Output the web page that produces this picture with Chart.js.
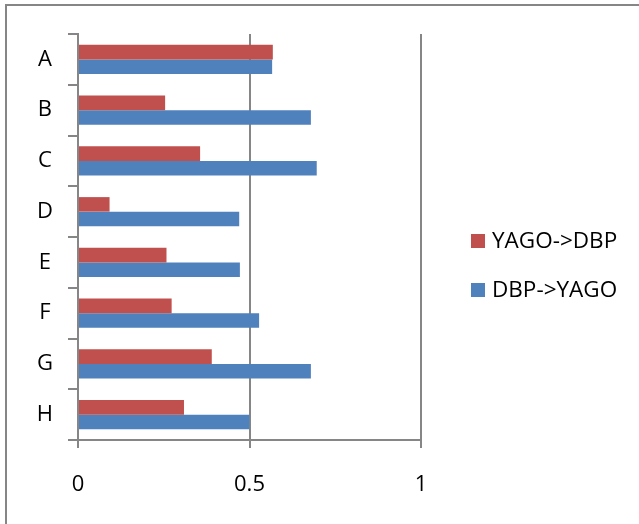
<!DOCTYPE html>
<html>
<head>
<meta charset="utf-8">
<script src="https://cdn.jsdelivr.net/npm/chart.js@4/dist/chart.umd.min.js"></script>
<style>
  html, body { margin: 0; padding: 0; background: #ffffff; }
  canvas { display: block; }
</style>
</head>
<body>
<canvas id="chart" width="639" height="524"></canvas>
<script>
// Matching categories and the two directions of the mapping
const categories = ['A', 'B', 'C', 'D', 'E', 'F', 'G', 'H'];
const yagoToDbp = [0.568, 0.254, 0.356, 0.092, 0.258, 0.273, 0.390, 0.309];
const dbpToYago = [0.566, 0.679, 0.696, 0.470, 0.472, 0.528, 0.679, 0.500];
const xTicks = [0, 0.5, 1];

const FONT = { family: '"Open Sans", "Noto Sans", sans-serif', size: 22 };
const LEGEND_FONT_SIZE = 22.5;
const AXIS_GREY = '#868686';
const RED = '#C0504D';
const BLUE = '#4F81BD';

// White page, frame along the top and left, and a side legend
const framePlugin = {
  id: 'frame',
  beforeDraw(chart) {
    const ctx = chart.ctx;
    ctx.save();
    ctx.fillStyle = '#ffffff';
    ctx.fillRect(0, 0, chart.width, chart.height);
    ctx.fillStyle = AXIS_GREY;
    ctx.fillRect(5, 4, chart.width - 5, 2);
    ctx.fillRect(5, 4, 2, chart.height - 4);
    ctx.restore();
  },
  afterDraw(chart) {
    const ctx = chart.ctx;
    ctx.save();
    ctx.font = LEGEND_FONT_SIZE + 'px ' + FONT.family;
    ctx.textBaseline = 'middle';
    ctx.textAlign = 'left';
    const rowsY = [241, 290];
    chart.data.datasets.forEach((ds, i) => {
      const cy = rowsY[i];
      ctx.fillStyle = ds.backgroundColor;
      ctx.fillRect(471, cy - 7, 14, 14);
      ctx.fillStyle = '#000000';
      ctx.fillText(ds.label, 492, cy + 1);
    });
    ctx.restore();
  }
};

new Chart(document.getElementById('chart'), {
  type: 'bar',
  data: {
    labels: categories,
    datasets: [
      { label: 'YAGO->DBP', data: yagoToDbp, backgroundColor: RED },
      { label: 'DBP->YAGO', data: dbpToYago, backgroundColor: BLUE }
    ]
  },
  options: {
    indexAxis: 'y',
    responsive: false,
    animation: false,
    devicePixelRatio: 1,
    layout: { padding: { top: 34, right: 218, left: 0, bottom: 0 } },
    datasets: { bar: { categoryPercentage: 0.572, barPercentage: 1.0 } },
    plugins: { legend: { display: false }, tooltip: { enabled: false } },
    scales: {
      x: {
        type: 'linear',
        min: 0,
        max: 1,
        afterBuildTicks(scale) { scale.ticks = xTicks.map(v => ({ value: v })); },
        afterFit(scale) { scale.height = 84; },
        ticks: {
          font: FONT,
          color: '#000000',
          padding: 24,
          callback: v => String(v)
        },
        grid: { color: AXIS_GREY, lineWidth: 2, drawTicks: true, tickLength: 8 },
        border: { display: true, color: AXIS_GREY, width: 2 }
      },
      y: {
        type: 'category',
        afterFit(scale) { scale.width = 78; },
        ticks: { font: FONT, color: '#000000', crossAlign: 'center', padding: 15 },
        grid: { drawOnChartArea: false, drawTicks: true, tickLength: 10, color: AXIS_GREY, lineWidth: 2, offset: true },
        border: { display: true, color: AXIS_GREY, width: 2 }
      }
    }
  },
  plugins: [framePlugin]
});
</script>
</body>
</html>
